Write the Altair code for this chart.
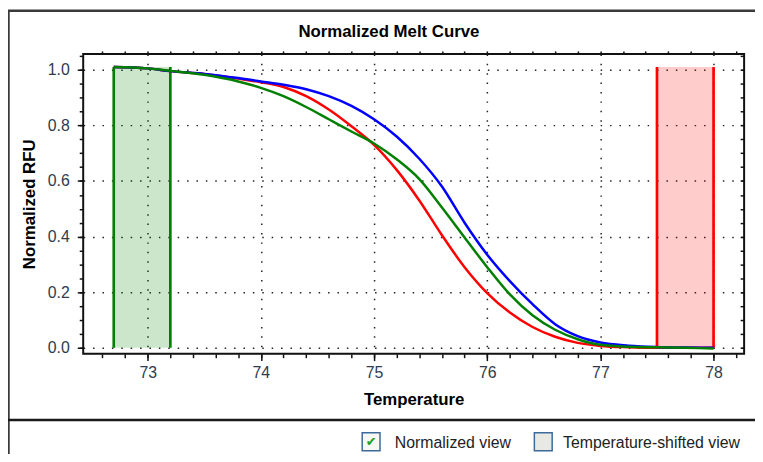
import altair as alt
import pandas as pd
import numpy as np

# ---- data ----
temps = [72.7, 73.0, 73.2, 73.5, 73.8, 74.0, 74.2, 74.4, 74.6, 74.8, 75.0, 75.2,
         75.4, 75.6, 75.8, 76.0, 76.2, 76.4, 76.6, 76.8, 77.0, 77.25, 77.5, 77.75, 78.0]
red = [1.01, 1.005, 0.995, 0.985, 0.968, 0.955, 0.938, 0.905, 0.857, 0.797, 0.73, 0.64,
       0.53, 0.405, 0.29, 0.197, 0.127, 0.075, 0.04, 0.018, 0.007, 0.002, 0.0, 0.0, 0.0]
blue = [1.01, 1.005, 0.995, 0.985, 0.97, 0.958, 0.946, 0.93, 0.905, 0.87, 0.822, 0.76,
        0.68, 0.58, 0.45, 0.335, 0.24, 0.157, 0.085, 0.042, 0.019, 0.008, 0.003, 0.001, 0.0]
green = [1.01, 1.005, 0.996, 0.982, 0.958, 0.935, 0.905, 0.866, 0.822, 0.778, 0.735, 0.678,
         0.607, 0.505, 0.397, 0.29, 0.192, 0.117, 0.065, 0.031, 0.011, 0.004, 0.002, 0.0, -0.002]
series_names = ["Red", "Blue", "Green"]
series_colors = ["#ff0000", "#0000ff", "#008000"]
series_widths = [2.5, 2.5, 3.5]

region_names = ["GreenRegion", "RedRegion"]
region_colors = ["#008000", "#ff0000"]
region_start = [72.7, 77.5]
region_end = [73.2, 78.0]
region_top = [1.01, 1.01]

x_major = [73, 74, 75, 76, 77, 78]
y_major = [0.0, 0.2, 0.4, 0.6, 0.8, 1.0]
x_minor = [round(v, 1) for v in np.arange(72.6, 78.21, 0.2)]
y_minor = [round(v, 2) for v in np.arange(0.0, 1.051, 0.05)]

title_text = "Normalized Melt Curve"
x_title = "Temperature"
y_title = "Normalized RFU"
check_labels = ["Normalized view", "Temperature-shifted view"]

# ---- tables ----
rows = []
for name, vals in zip(series_names, [red, blue, green]):
    for t, v in zip(temps, vals):
        rows.append({"T": t, "RFU": v, "series": name})
curves = pd.DataFrame(rows)

regions = pd.DataFrame({"name": region_names, "start": region_start,
                        "end": region_end, "top": region_top})
edges = pd.DataFrame({"name": region_names * 2, "T": region_start + region_end,
                      "top": region_top * 2})

FONT = "Liberation Sans"
xdom = [72.43, 78.27]
ydom = [-0.021, 1.057]
xs = alt.Scale(domain=xdom, nice=False, zero=False)
ys = alt.Scale(domain=ydom, nice=False, zero=False)
reg_color = alt.Scale(domain=region_names, range=region_colors)

fill = alt.Chart(regions).mark_rect(opacity=0.2).encode(
    x=alt.X("start:Q", scale=xs, axis=None),
    x2="end:Q",
    y=alt.Y("top:Q", scale=ys, axis=None),
    y2=alt.datum(0),
    fill=alt.Fill("name:N", scale=reg_color, legend=None),
)

edge_lines = alt.Chart(edges).mark_rule(strokeWidth=2.7).encode(
    x=alt.X("T:Q", scale=xs, axis=None),
    y=alt.Y("top:Q", scale=ys, axis=None),
    y2=alt.datum(0),
    stroke=alt.Stroke("name:N", scale=reg_color, legend=None),
)

lines = alt.Chart(curves).mark_line(interpolate="monotone").encode(
    x=alt.X("T:Q", scale=xs, title=x_title,
            axis=alt.Axis(orient="bottom", values=x_major, format="d", grid=True,
                          tickSize=7, labelPadding=4, titlePadding=11, domain=False)),
    y=alt.Y("RFU:Q", scale=ys, title=y_title,
            axis=alt.Axis(orient="left", values=y_major, format=".1f", grid=True,
                          tickSize=6, labelPadding=8, titlePadding=9, domain=False)),
    color=alt.Color("series:N", scale=alt.Scale(domain=series_names, range=series_colors), legend=None),
    strokeWidth=alt.StrokeWidth("series:N", scale=alt.Scale(domain=series_names, range=series_widths), legend=None),
    order=alt.Order("T:Q"),
)

minor = alt.Chart(curves).mark_point(opacity=0).encode(
    x=alt.X("T:Q", scale=xs, title=None,
            axis=alt.Axis(orient="bottom", values=x_minor, labels=False, grid=False,
                          tickSize=4, domain=False, title=None)),
    y=alt.Y("RFU:Q", scale=ys, title=None,
            axis=alt.Axis(orient="left", values=y_minor, labels=False, grid=False,
                          tickSize=4, domain=False, title=None)),
)

topright = alt.Chart(curves).mark_point(opacity=0).encode(
    x=alt.X("T:Q", scale=xs, title=None,
            axis=alt.Axis(orient="top", values=x_minor, labels=False, grid=False,
                          tickSize=3, domain=False, title=None)),
    y=alt.Y("RFU:Q", scale=ys, title=None,
            axis=alt.Axis(orient="right", values=y_minor, labels=False, grid=False,
                          tickSize=4, offset=-4, domain=False, title=None)),
)

# ---- window decoration (title, frame, separator, check boxes) ----
deco_src = pd.DataFrame({"k": [0]})
title_mark = alt.Chart(deco_src).mark_text(text=title_text, font=FONT, fontSize=17,
                                           fontWeight="bold", color="#000000",
                                           align="center", baseline="middle").encode(
    x=alt.value(309), y=alt.value(-22))
frame_left = alt.Chart(deco_src).mark_rule(color="#3a3a3a", strokeWidth=2.5).encode(
    x=alt.value(-75.5), y=alt.value(-44), y2=alt.value(410))
frame_top = alt.Chart(deco_src).mark_rule(color="#3a3a3a", strokeWidth=2.5).encode(
    x=alt.value(-76), x2=alt.value(679), y=alt.value(-43.5))
separator = alt.Chart(deco_src).mark_rule(color="#1a1a1a", strokeWidth=2.5).encode(
    x=alt.value(-76), x2=alt.value(679), y=alt.value(370))

box1 = alt.Chart(deco_src).mark_rect(fill="#f7f7f4", stroke="#3d6a99", strokeWidth=1.5).encode(
    x=alt.value(282), x2=alt.value(300), y=alt.value(383), y2=alt.value(401))
box2 = alt.Chart(deco_src).mark_rect(fill="#e9e9e4", stroke="#3d6a99", strokeWidth=1.5).encode(
    x=alt.value(456), x2=alt.value(474), y=alt.value(383), y2=alt.value(401))
check = alt.Chart(deco_src).mark_text(text="\u2714", font="DejaVu Sans", fontSize=13,
                                      color="#22a022", align="center", baseline="middle").encode(
    x=alt.value(291), y=alt.value(392.5))
text1 = alt.Chart(deco_src).mark_text(text=check_labels[0], font=FONT, fontSize=16,
                                      color="#222222", align="left", baseline="middle").encode(
    x=alt.value(315), y=alt.value(393))
text2 = alt.Chart(deco_src).mark_text(text=check_labels[1], font=FONT, fontSize=16,
                                      color="#222222", align="left", baseline="middle").encode(
    x=alt.value(485), y=alt.value(393))

chart = alt.layer(
    fill, edge_lines, lines, minor, topright, title_mark,
    frame_left, frame_top, separator, box1, box2, check, text1, text2,
).resolve_axis(x="independent", y="independent").resolve_scale(
    color="independent", fill="independent", stroke="independent", strokeWidth="independent",
).properties(
    width=668, height=303,
    autosize=alt.AutoSizeParams(type="none"),
    padding={"left": 76, "top": 44, "right": 11, "bottom": 99},
    background="white",
).configure_view(stroke="#111111", strokeWidth=2).configure_axis(
    labelFont=FONT, labelFontSize=16, labelColor="#2f3a4f",
    titleFont=FONT, titleFontSize=17, titleFontWeight="bold", titleColor="#000000",
    tickColor="#111111", tickWidth=1.5,
    gridColor="#222222", gridDash=[1.5, 8], gridWidth=1.5, gridOpacity=1,
)

chart.save("out.html", embed_options={"renderer": "svg", "actions": False})
